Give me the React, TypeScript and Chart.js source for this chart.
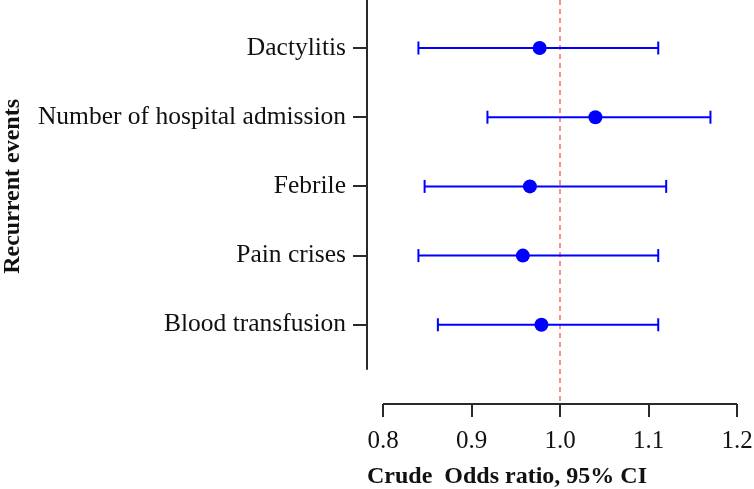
import React, { useEffect, useRef } from "react";
import { Chart, registerables } from "chart.js";

Chart.register(...registerables);

const categories = [
  "Dactylitis",
  "Number of hospital admission",
  "Febrile",
  "Pain crises",
  "Blood transfusion",
];
const oddsRatio = [0.977, 1.04, 0.966, 0.958, 0.979];
const lowerCI = [0.84, 0.918, 0.847, 0.84, 0.862];
const upperCI = [1.111, 1.17, 1.12, 1.111, 1.111];
const xTicks = [0.8, 0.9, 1.0, 1.1, 1.2];
const referenceValue = 1.0;

const xTitle = "Crude  Odds ratio, 95% CI";
const yTitle = "Recurrent events";

const FONT = "'Liberation Serif', 'Times New Roman', serif";
const BLUE = "#0000FF";
const AXIS = "#2a2a2a";
const Y_MIN = -0.694;
const Y_MAX = 5.145;
const Y_AXIS_END = 4.65;

const customAxes = {
  id: "customAxes",
  beforeDatasetsDraw(chart: any) {
    const { ctx, chartArea, scales } = chart;
    const xs = scales.x;
    const ys = scales.y;
    ctx.save();
    ctx.strokeStyle = AXIS;
    ctx.lineWidth = 2;
    ctx.beginPath();
    ctx.moveTo(xs.getPixelForValue(xTicks[0]), chartArea.bottom);
    ctx.lineTo(xs.getPixelForValue(xTicks[xTicks.length - 1]), chartArea.bottom);
    ctx.moveTo(chartArea.left, chartArea.top);
    ctx.lineTo(chartArea.left, ys.getPixelForValue(Y_AXIS_END));
    ctx.stroke();
    ctx.restore();
  },
  afterDraw(chart: any) {
    const { ctx, scales } = chart;
    const ys = scales.y;
    ctx.save();
    ctx.translate(13, ys.getPixelForValue((categories.length - 1) / 2));
    ctx.rotate(-Math.PI / 2);
    ctx.textAlign = "center";
    ctx.textBaseline = "middle";
    ctx.fillStyle = "#111";
    ctx.font = `bold 24px ${FONT}`;
    ctx.fillText(yTitle, 0, 0);
    ctx.restore();
  },
};

export default function App() {
  const ref = useRef<HTMLCanvasElement | null>(null);

  useEffect(() => {
    document.body.style.margin = "0";
    if (!ref.current) return;

    const errorSets = categories.map((_, i) => ({
      type: "scatter" as const,
      data: [
        { x: lowerCI[i], y: i },
        { x: upperCI[i], y: i },
      ],
      showLine: true,
      borderColor: BLUE,
      borderWidth: 2,
      pointStyle: "line" as const,
      pointRotation: 90,
      pointRadius: 6.5,
      pointBorderWidth: 2,
      pointBorderColor: BLUE,
      pointBackgroundColor: BLUE,
      order: 5,
    }));

    const chart = new Chart(ref.current, {
      type: "scatter",
      data: {
        datasets: [
          {
            data: [
              { x: referenceValue, y: Y_MIN },
              { x: referenceValue, y: Y_MAX },
            ],
            showLine: true,
            borderColor: "#FF8F8F",
            borderWidth: 2,
            borderDash: [5, 4],
            pointRadius: 0,
            order: 10,
          },
          ...errorSets,
          {
            data: oddsRatio.map((v, i) => ({ x: v, y: i })),
            pointRadius: 7,
            pointBackgroundColor: BLUE,
            pointBorderColor: BLUE,
            pointBorderWidth: 0,
            order: 0,
          },
        ] as any,
      },
      options: {
        animation: false,
        responsive: false,
        layout: { autoPadding: false, padding: { top: 0, right: 17, bottom: 0, left: 0 } },
        plugins: {
          legend: { display: false },
          tooltip: { enabled: false },
        },
        scales: {
          x: {
            type: "linear",
            min: 0.7819,
            max: 1.2,
            afterBuildTicks: (s: any) => {
              s.ticks = xTicks.map((v) => ({ value: v }));
            },
            afterFit: (s: any) => {
              s.height = 85;
              s.paddingLeft = 0;
              s.paddingRight = 0;
            },
            border: { display: false },
            grid: {
              drawOnChartArea: false,
              drawTicks: true,
              tickLength: 13,
              color: AXIS,
              lineWidth: 2,
            },
            ticks: {
              callback: (v: any) => Number(v).toFixed(1),
              color: "#111",
              font: { family: FONT, size: 25 },
              padding: 9,
              maxRotation: 0,
              autoSkip: false,
            },
            title: {
              display: true,
              text: xTitle,
              align: "start",
              color: "#111",
              font: { family: FONT, size: 24, weight: "bold", lineHeight: 1.05 },
              padding: { top: 0, bottom: 0 },
            },
          },
          y: {
            type: "linear",
            reverse: true,
            min: Y_MIN,
            max: Y_MAX,
            afterBuildTicks: (s: any) => {
              s.ticks = categories.map((_, i) => ({ value: i }));
            },
            afterFit: (s: any) => {
              s.width = 367;
              s.paddingTop = 0;
              s.paddingBottom = 0;
            },
            border: { display: false },
            grid: {
              drawOnChartArea: false,
              drawTicks: true,
              tickLength: 14,
              color: AXIS,
              lineWidth: 2,
            },
            ticks: {
              callback: (v: any) => categories[Number(v)] ?? "",
              color: "#111",
              font: { family: FONT, size: 25.5 },
              padding: 7,
              autoSkip: false,
            },
          },
        },
      },
      plugins: [customAxes],
    } as any);

    return () => chart.destroy();
  }, []);

  return (
    <div style={{ width: 754, height: 489 }}>
      <canvas ref={ref} width={754} height={489} style={{ display: "block" }} />
    </div>
  );
}
